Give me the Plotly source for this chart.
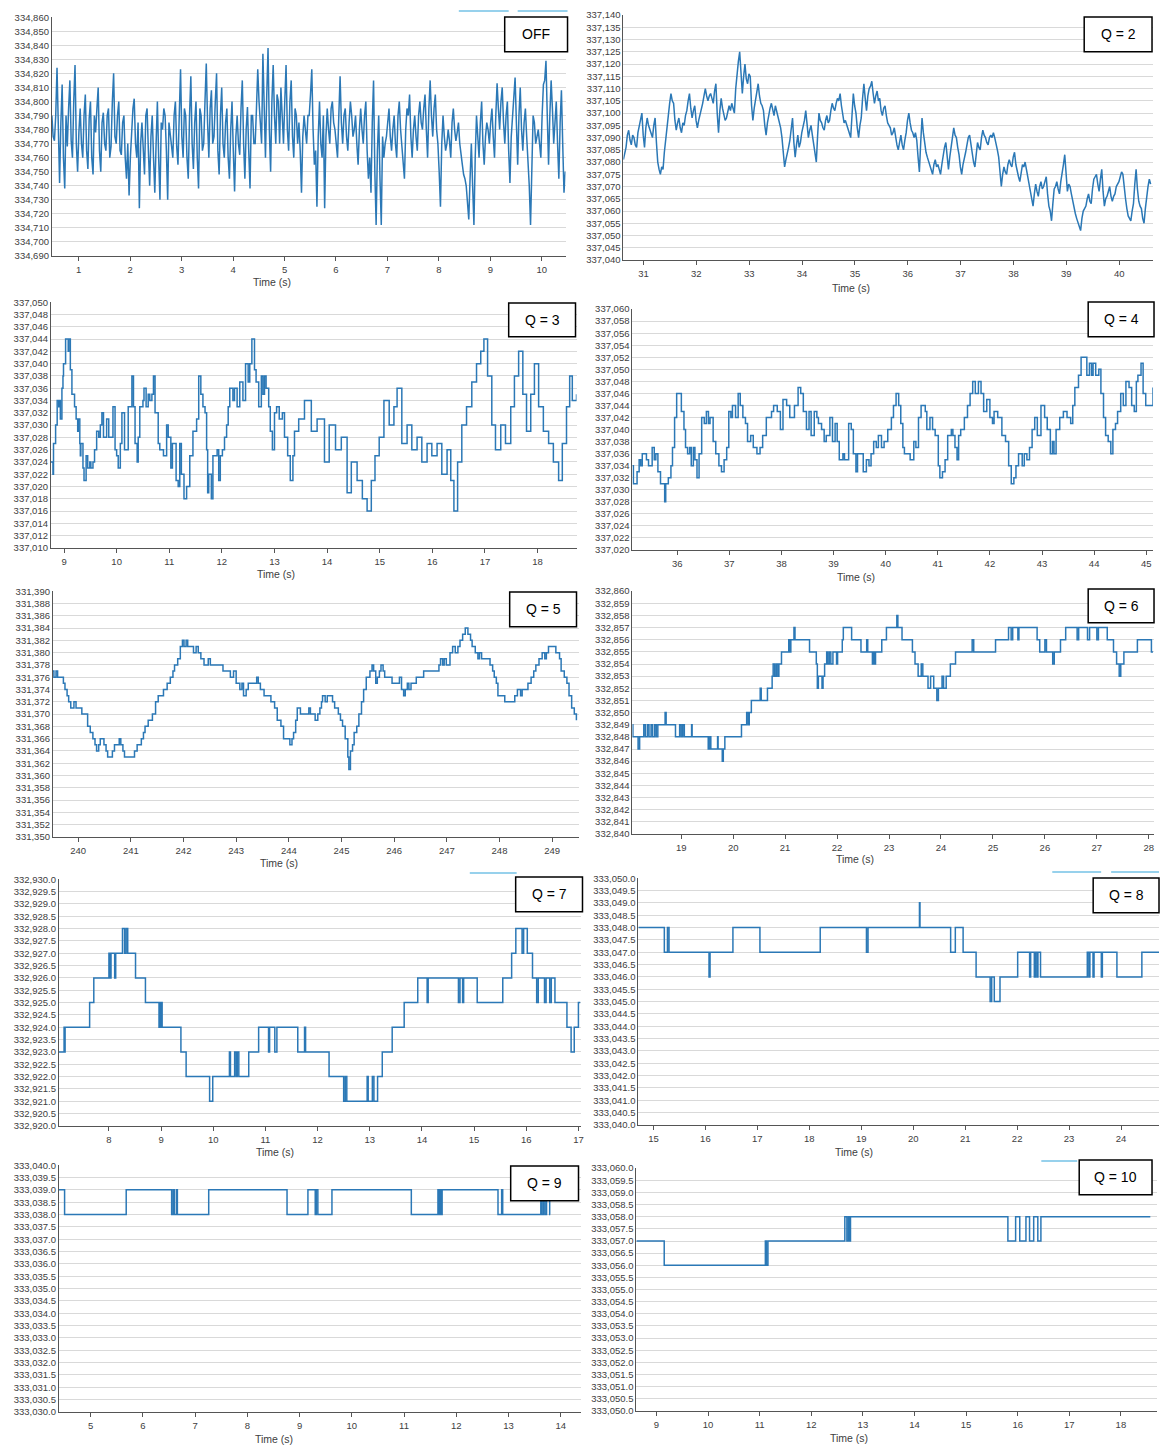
import plotly.graph_objects as go

W, H = 1164, 1449
BLUE = "#2b78b6"

# ---------------- data ----------------
# OFF: sampled trace (start time, sample step); main samples + in-between samples
off_t0, off_dt = 0.48, 0.05
off_v = [
    334790, 334772, 334824, 334742, 334812, 334738, 334768, 334815, 334760, 334826,
    334750, 334795, 334760, 334805, 334752, 334800, 334748, 334778, 334810, 334750,
    334792, 334765, 334795, 334768, 334820, 334770, 334800, 334762, 334790, 334745,
    334733, 334780, 334802, 334760, 334724, 334785, 334748, 334795, 334740, 334790,
    334735, 334800, 334730, 334780, 334790, 334730, 334778, 334760, 334800, 334755,
    334823, 334760, 334790, 334745, 334818, 334752, 334800, 334738, 334790, 334770,
    334827, 334760, 334808, 334775, 334820, 334748, 334810, 334760, 334795, 334745,
    334800, 334736, 334790, 334762, 334815, 334745, 334796, 334738, 334790, 334770,
    334823, 334785, 334834, 334760, 334838, 334750, 334826, 334770, 334800, 334810,
    334770, 334826, 334765, 334815, 334760, 334790, 334785, 334735, 334790, 334770,
    334790, 334823, 334755, 334725, 334800, 334760, 334724, 334795, 334770, 334800,
    334780, 334760, 334818, 334770, 334795, 334765, 334800, 334775, 334790, 334755,
    334795, 334770, 334800, 334745, 334735, 334815, 334712, 334790, 334712, 334760,
    334775, 334795, 334765, 334790, 334760, 334800, 334770, 334745, 334795, 334805,
    334760, 334790, 334765, 334800, 334780, 334805, 334760, 334815, 334775, 334805,
    334770, 334725, 334790, 334765, 334780, 334760, 334795, 334772, 334785, 334760,
    334748, 334740, 334716, 334770, 334712, 334790, 334760, 334800, 334755, 334785,
    334770, 334795, 334760, 334813, 334780, 334810, 334770, 334800, 334742, 334790,
    334817, 334755, 334810, 334765, 334795, 334760, 334712, 334790, 334770, 334780,
    334760, 334812, 334829, 334755, 334815, 334770, 334800, 334745, 334808, 334735,
]
off_mid = [
    334775, 334790, 334768, 334785, 334760, 334790, 334795, 334772, 334800, 334770,
    334778, 334770, 334790, 334765, 334788, 334760, 334790, 334795, 334765, 334785,
    334770, 334790, 334760, 334800, 334775, 334790, 334765, 334785, 334760, 334770,
    334760, 334795, 334770, 334785, 334770, 334760, 334790, 334765, 334775, 334760,
    334770, 334760, 334785, 334795, 334765, 334785, 334770, 334790, 334768, 334790,
    334775, 334795, 334760, 334790, 334770, 334785, 334760, 334795, 334765, 334800,
    334785, 334795, 334770, 334800, 334765, 334790, 334770, 334785, 334760, 334780,
    334765, 334775, 334770, 334795, 334770, 334780, 334765, 334790, 334770, 334795,
    334800, 334770, 334795, 334805, 334780, 334800, 334790, 334805, 334770, 334790,
    334800, 334780, 334800, 334775, 334795, 334770, 334765, 334775, 334780, 334790,
    334805, 334780, 334765, 334775, 334770, 334790, 334775, 334780, 334795, 334785,
    334770, 334790, 334785, 334790, 334775, 334785, 334790, 334780, 334770, 334780,
    334780, 334790, 334765, 334760, 334785, 334750, 334765, 334745, 334775, 334770,
    334785, 334775, 334780, 334770, 334790, 334780, 334760, 334780, 334790, 334775,
    334780, 334775, 334790, 334785, 334795, 334780, 334795, 334790, 334795, 334780,
    334750, 334770, 334775, 334770, 334772, 334785, 334780, 334778, 334770, 334755,
    334745, 334730, 334745, 334740, 334760, 334775, 334785, 334770, 334775, 334780,
    334785, 334775, 334790, 334795, 334800, 334785, 334790, 334765, 334775, 334805,
    334785, 334790, 334780, 334785, 334775, 334740, 334760, 334785, 334775, 334770,
    334790, 334815, 334790, 334790, 334795, 334785, 334770, 334785, 334770, 334750,
]

# Q = 2: sampled trace; main samples + in-between samples
q2_t0, q2_dt = 30.62, 0.05
q2_v = [
    337081, 337086, 337093, 337087, 337090, 337086, 337095, 337100, 337086, 337098,
    337093, 337090, 337098, 337080, 337075, 337077, 337090, 337099, 337108, 337104,
    337093, 337098, 337092, 337095, 337101, 337108, 337098, 337103, 337094, 337099,
    337104, 337110, 337105, 337108, 337104, 337112, 337092, 337106, 337100, 337098,
    337103, 337104, 337100, 337117, 337125, 337108, 337120, 337112, 337115, 337097,
    337105, 337112, 337104, 337101, 337091, 337100, 337104, 337099, 337101, 337097,
    337090, 337078, 337083, 337089, 337098, 337082, 337091, 337088, 337094, 337101,
    337090, 337095, 337087, 337080, 337100, 337096, 337093, 337099, 337097, 337104,
    337101, 337106, 337108, 337099, 337097, 337094, 337090, 337108, 337100, 337090,
    337098, 337112, 337101, 337110, 337113, 337104, 337109, 337106, 337099, 337103,
    337096, 337094, 337092, 337090, 337085, 337091, 337085, 337092, 337100, 337093,
    337090, 337089, 337076, 337098, 337087, 337082, 337078, 337075, 337081, 337079,
    337075, 337083, 337088, 337077, 337086, 337094, 337090, 337083, 337075, 337081,
    337087, 337091, 337084, 337078, 337088, 337085, 337093, 337090, 337087, 337091,
    337092, 337088, 337082, 337070, 337078, 337075, 337081, 337078, 337084, 337076,
    337072, 337079, 337080, 337074, 337068, 337062, 337071, 337066, 337072, 337070,
    337074, 337062, 337056, 337069, 337072, 337067, 337075, 337083, 337068, 337070,
    337064, 337059, 337055, 337052, 337060, 337062, 337067, 337063, 337073, 337075,
    337068, 337077, 337062, 337066, 337070, 337064, 337067, 337071, 337074, 337075,
    337065, 337058, 337056, 337063, 337077, 337064, 337061, 337055, 337066, 337073,
]
q2_mid = [
    337084, 337091, 337089, 337091, 337087, 337092, 337098, 337091, 337094, 337095,
    337091, 337095, 337088, 337077, 337078, 337084, 337095, 337104, 337105, 337097,
    337096, 337094, 337096, 337099, 337105, 337102, 337101, 337097, 337097, 337102,
    337107, 337107, 337107, 337106, 337109, 337100, 337101, 337102, 337097, 337101,
    337101, 337102, 337110, 337121, 337114, 337115, 337114, 337116, 337103, 337102,
    337109, 337107, 337103, 337095, 337096, 337102, 337101, 337103, 337099, 337094,
    337084, 337081, 337086, 337094, 337088, 337087, 337086, 337092, 337097, 337094,
    337093, 337091, 337084, 337091, 337097, 337094, 337097, 337096, 337101, 337102,
    337104, 337105, 337103, 337096, 337095, 337092, 337099, 337103, 337094, 337095,
    337106, 337106, 337107, 337111, 337108, 337107, 337105, 337101, 337102, 337099,
    337095, 337091, 337094, 337087, 337089, 337087, 337089, 337097, 337096, 337092,
    337092, 337082, 337088, 337092, 337084, 337080, 337077, 337079, 337078, 337077,
    337079, 337086, 337082, 337082, 337091, 337091, 337086, 337078, 337079, 337084,
    337090, 337087, 337080, 337084, 337086, 337090, 337091, 337088, 337090, 337090,
    337090, 337085, 337075, 337075, 337076, 337079, 337079, 337082, 337079, 337074,
    337076, 337078, 337077, 337070, 337065, 337067, 337068, 337070, 337069, 337072,
    337067, 337060, 337063, 337070, 337069, 337072, 337079, 337073, 337071, 337067,
    337061, 337057, 337054, 337057, 337061, 337065, 337064, 337069, 337074, 337071,
    337073, 337068, 337065, 337068, 337066, 337066, 337070, 337072, 337076, 337069,
    337061, 337057, 337060, 337071, 337069, 337062, 337057, 337061, 337070, 337071,
]

# Q = 3
q3_t = [8.75, 8.79, 8.80, 8.84, 8.87, 8.90, 8.92, 8.93, 8.96, 8.98, 8.99, 9.03, 9.08, 9.09, 9.12, 9.15,
        9.20, 9.23, 9.26, 9.27, 9.30, 9.31, 9.32, 9.36, 9.38, 9.42, 9.45, 9.49, 9.51, 9.55, 9.58, 9.62,
        9.66, 9.69, 9.72, 9.75, 9.81, 9.85, 9.93, 9.97, 10.00, 10.03, 10.07, 10.10, 10.15, 10.22, 10.29,
        10.32, 10.35, 10.39, 10.41, 10.44, 10.50, 10.52, 10.56, 10.60, 10.63, 10.67, 10.70, 10.73, 10.79,
        10.82, 10.89, 10.95, 10.98, 11.03, 11.06, 11.13, 11.17, 11.20, 11.23, 11.28, 11.33, 11.39, 11.45,
        11.52, 11.56, 11.60, 11.64, 11.68, 11.71, 11.73, 11.75, 11.80, 11.83, 11.91, 11.94, 11.97, 12.01,
        12.05, 12.09, 12.12, 12.15, 12.21, 12.24, 12.29, 12.34, 12.40, 12.45, 12.50, 12.53, 12.57, 12.62,
        12.65, 12.70, 12.75, 12.78, 12.81, 12.84, 12.89, 12.92, 12.96, 13.00, 13.04, 13.09, 13.15, 13.19,
        13.25, 13.30, 13.35, 13.38, 13.41, 13.46, 13.57, 13.70, 13.81, 13.95, 14.04, 14.16, 14.27, 14.38,
        14.46, 14.57, 14.67, 14.76, 14.84, 14.91, 14.99, 15.08, 15.18, 15.27, 15.33, 15.42, 15.52, 15.61,
        15.71, 15.80, 15.90, 15.99, 16.09, 16.18, 16.28, 16.35, 16.41, 16.48, 16.56, 16.65, 16.75, 16.84,
        16.92, 16.98, 17.05, 17.13, 17.20, 17.30, 17.39, 17.49, 17.56, 17.64, 17.72, 17.79, 17.87, 17.94,
        18.02, 18.11, 18.21, 18.30, 18.40, 18.47, 18.55, 18.61, 18.66, 18.74]
q3_v = [337024, 337022, 337027, 337030, 337034, 337033, 337034, 337031, 337036, 337038, 337040, 337044,
        337042, 337044, 337039, 337035, 337033, 337031, 337029, 337031, 337027, 337025, 337027, 337023,
        337021, 337025, 337023, 337024, 337023, 337024, 337026, 337029, 337028, 337030, 337032, 337028,
        337031, 337028, 337033, 337026, 337025, 337023, 337027, 337032, 337026, 337033, 337038, 337033,
        337027, 337024, 337028, 337033, 337034, 337036, 337033, 337035, 337034, 337035, 337038, 337032,
        337027, 337026, 337025, 337030, 337028, 337023, 337027, 337021, 337020, 337027, 337022, 337018,
        337020, 337025, 337029, 337031, 337038, 337035, 337033, 337032, 337026, 337019, 337022, 337018,
        337025, 337026, 337021, 337025, 337026, 337028, 337030, 337033, 337036, 337034, 337036, 337033,
        337037, 337034, 337040, 337037, 337040, 337044, 337039, 337037, 337033, 337038, 337035, 337038,
        337036, 337033, 337029, 337026, 337032, 337033, 337031, 337032, 337028, 337025, 337021, 337025,
        337029, 337029, 337031, 337034, 337029, 337031, 337024, 337030, 337026, 337028, 337019, 337024,
        337021, 337018, 337016, 337021, 337025, 337028, 337034, 337030, 337033, 337036, 337027, 337030,
        337026, 337028, 337024, 337027, 337025, 337027, 337022, 337026, 337021, 337016, 337024, 337030,
        337033, 337037, 337040, 337042, 337044, 337038, 337030, 337026, 337030, 337027, 337033, 337038,
        337042, 337035, 337029, 337035, 337040, 337033, 337029, 337027, 337024, 337021, 337027, 337033,
        337038, 337034, 337035]

# Q = 4
q4_t = [35.14, 35.16, 35.21, 35.23, 35.27, 35.30, 35.33, 35.38, 35.41, 35.45, 35.52, 35.56, 35.59, 35.63,
        35.68, 35.73, 35.76, 35.78, 35.83, 35.88, 35.91, 35.95, 35.99, 36.04, 36.08, 36.13, 36.16, 36.20,
        36.24, 36.27, 36.31, 36.34, 36.38, 36.42, 36.47, 36.52, 36.56, 36.60, 36.63, 36.69, 36.74, 36.80,
        36.85, 36.90, 36.95, 36.99, 37.03, 37.06, 37.12, 37.17, 37.21, 37.26, 37.31, 37.35, 37.41, 37.46,
        37.53, 37.59, 37.64, 37.71, 37.78, 37.81, 37.85, 37.92, 37.98, 38.03, 38.10, 38.16, 38.21, 38.25,
        38.32, 38.37, 38.42, 38.48, 38.53, 38.57, 38.63, 38.68, 38.71, 38.77, 38.82, 38.86, 38.93, 38.98,
        39.03, 39.07, 39.11, 39.18, 39.21, 39.29, 39.34, 39.38, 39.43, 39.46, 39.54, 39.57, 39.63, 39.68,
        39.72, 39.77, 39.82, 39.86, 39.92, 39.97, 40.04, 40.11, 40.15, 40.20, 40.25, 40.29, 40.33, 40.36,
        40.43, 40.47, 40.54, 40.58, 40.63, 40.68, 40.76, 40.79, 40.85, 40.90, 40.95, 41.01, 41.04, 41.09,
        41.14, 41.19, 41.26, 41.29, 41.33, 41.37, 41.40, 41.44, 41.51, 41.57, 41.62, 41.67, 41.72, 41.78,
        41.83, 41.88, 41.94, 42.00, 42.05, 42.08, 42.15, 42.23, 42.30, 42.36, 42.41, 42.46, 42.50, 42.55,
        42.62, 42.66, 42.71, 42.76, 42.81, 42.86, 42.91, 42.98, 43.05, 43.10, 43.16, 43.20, 43.23, 43.27,
        43.34, 43.41, 43.48, 43.55, 43.59, 43.63, 43.70, 43.75, 43.80, 43.86, 43.91, 43.95, 43.98, 44.03,
        44.09, 44.13, 44.18, 44.22, 44.27, 44.32, 44.36, 44.41, 44.45, 44.51, 44.56, 44.61, 44.67, 44.72,
        44.77, 44.81, 44.84, 44.90, 44.94, 44.99, 45.06, 45.13]
q4_v = [337034, 337031, 337031, 337033, 337035, 337034, 337036, 337036, 337035, 337034, 337037, 337035,
        337036, 337033, 337031, 337031, 337028, 337031, 337032, 337034, 337037, 337042, 337046, 337046,
        337043, 337040, 337037, 337036, 337037, 337034, 337037, 337035, 337032, 337036, 337042, 337041,
        337043, 337041, 337042, 337038, 337036, 337034, 337033, 337035, 337037, 337043, 337042, 337044,
        337042, 337046, 337044, 337042, 337041, 337038, 337039, 337037, 337036, 337037, 337039, 337042,
        337042, 337043, 337044, 337043, 337040, 337045, 337044, 337042, 337042, 337044, 337047, 337046,
        337043, 337040, 337043, 337039, 337043, 337042, 337041, 337040, 337038, 337039, 337042, 337038,
        337041, 337038, 337035, 337036, 337035, 337041, 337040, 337036, 337033, 337036, 337036, 337033,
        337035, 337034, 337036, 337038, 337037, 337039, 337037, 337038, 337040, 337042, 337044, 337046,
        337044, 337041, 337037, 337036, 337036, 337035, 337038, 337037, 337042, 337044, 337043, 337040,
        337042, 337040, 337039, 337034, 337032, 337033, 337035, 337039, 337040, 337039, 337037, 337035,
        337039, 337040, 337042, 337044, 337046, 337048, 337046, 337048, 337046, 337043, 337045, 337042,
        337041, 337043, 337042, 337039, 337038, 337034, 337031, 337032, 337034, 337036, 337034, 337036,
        337035, 337037, 337040, 337042, 337039, 337044, 337042, 337040, 337036, 337038, 337036, 337040,
        337042, 337043, 337042, 337041, 337044, 337047, 337049, 337052, 337052, 337049, 337051, 337049,
        337051, 337049, 337050, 337046, 337042, 337039, 337038, 337036, 337040, 337041, 337043, 337046,
        337044, 337048, 337047, 337044, 337043, 337048, 337049, 337051, 337046, 337044, 337044, 337047]

# Q = 5
q5_t = [239.52, 239.54, 239.58, 239.61, 239.68, 239.72, 239.75, 239.79, 239.82, 239.86, 239.92, 239.96,
        240.04, 240.07, 240.13, 240.18, 240.23, 240.28, 240.32, 240.35, 240.39, 240.42, 240.49, 240.53,
        240.56, 240.62, 240.65, 240.69, 240.78, 240.81, 240.85, 240.88, 241.04, 241.07, 241.12, 241.20,
        241.24, 241.27, 241.33, 241.41, 241.47, 241.52, 241.62, 241.69, 241.75, 241.80, 241.83, 241.89,
        241.94, 241.98, 242.01, 242.05, 242.08, 242.19, 242.24, 242.28, 242.33, 242.39, 242.47, 242.51,
        242.72, 242.75, 242.89, 242.95, 243.00, 243.07, 243.11, 243.14, 243.19, 243.23, 243.39, 243.42,
        243.46, 243.53, 243.66, 243.73, 243.78, 243.85, 243.90, 244.02, 244.06, 244.09, 244.13, 244.16,
        244.22, 244.38, 244.41, 244.50, 244.55, 244.59, 244.62, 244.64, 244.69, 244.73, 244.83, 244.87,
        244.94, 244.98, 245.02, 245.07, 245.12, 245.14, 245.17, 245.21, 245.24, 245.29, 245.33, 245.38,
        245.42, 245.47, 245.54, 245.58, 245.61, 245.65, 245.68, 245.72, 245.75, 245.79, 245.82, 245.96,
        246.10, 246.14, 246.18, 246.21, 246.25, 246.28, 246.32, 246.42, 246.56, 246.85, 246.88, 246.92,
        246.95, 246.99, 247.06, 247.11, 247.16, 247.21, 247.25, 247.30, 247.35, 247.40, 247.45, 247.48,
        247.54, 247.59, 247.62, 247.66, 247.76, 247.82, 247.87, 247.90, 247.94, 247.97, 248.10, 248.29,
        248.34, 248.40, 248.43, 248.54, 248.60, 248.65, 248.69, 248.75, 248.81, 248.86, 248.89, 248.93,
        249.07, 249.14, 249.17, 249.23, 249.28, 249.32, 249.37, 249.42, 249.46]
q5_v = [331377, 331376, 331377, 331376, 331376, 331375, 331374, 331373, 331372, 331371, 331372, 331371,
        331371, 331370, 331370, 331368, 331367, 331366, 331365, 331364, 331365, 331366, 331365, 331364,
        331363, 331363, 331364, 331365, 331366, 331365, 331364, 331363, 331363, 331364, 331365, 331366,
        331367, 331368, 331369, 331370, 331372, 331373, 331374, 331375, 331376, 331377, 331378, 331379,
        331381, 331382, 331381, 331382, 331381, 331380, 331381, 331380, 331379, 331378, 331379, 331378,
        331378, 331377, 331376, 331377, 331375, 331374, 331375, 331373, 331374, 331375, 331376, 331375,
        331374, 331373, 331372, 331371, 331369, 331368, 331366, 331365, 331366, 331367, 331369, 331371,
        331370, 331371, 331370, 331369, 331370, 331371, 331372, 331373, 331372, 331373, 331372, 331371,
        331370, 331369, 331368, 331366, 331363, 331361, 331364, 331365, 331367, 331368, 331370, 331372,
        331374, 331376, 331377, 331378, 331377, 331375, 331376, 331377, 331378, 331377, 331376, 331375,
        331376, 331374, 331373, 331374, 331375, 331374, 331375, 331376, 331377, 331378, 331379, 331378,
        331379, 331378, 331380, 331381, 331380, 331381, 331382, 331383, 331384, 331383, 331382, 331381,
        331380, 331379, 331380, 331379, 331379, 331378, 331377, 331376, 331375, 331373, 331372, 331373,
        331374, 331373, 331374, 331375, 331376, 331377, 331378, 331379, 331380, 331379, 331380, 331381,
        331380, 331379, 331377, 331376, 331375, 331373, 331371, 331370, 331369]

# Q = 6
q6_t = [18.06, 18.07, 18.17, 18.20, 18.28, 18.31, 18.35, 18.38, 18.42, 18.45, 18.49, 18.52, 18.55,
        18.69, 18.71, 18.89, 18.97, 19.00, 19.03, 19.06, 19.20, 19.21, 19.52, 19.55, 19.57, 19.70,
        19.71, 19.79, 19.81, 19.84, 20.16, 20.26, 20.29, 20.31, 20.35, 20.52, 20.54, 20.66, 20.75, 20.77,
        20.80, 20.83, 20.86, 20.88, 20.93, 21.07, 21.09, 21.11, 21.17, 21.19, 21.47, 21.60, 21.62, 21.64,
        21.71, 21.73, 21.76, 21.80, 21.82, 21.85, 21.88, 21.92, 21.99, 22.01, 22.10, 22.12, 22.28, 22.46,
        22.57, 22.59, 22.68, 22.70, 22.72, 22.74, 22.78, 22.86, 22.95, 23.15, 23.17, 23.25, 23.45, 23.50,
        23.56, 23.62, 23.65, 23.75, 23.80, 23.86, 23.92, 23.95, 24.02, 24.05, 24.10, 24.18, 24.28, 24.60,
        24.63, 25.05, 25.30, 25.35, 25.38, 25.48, 25.50, 25.85, 25.90, 26.00, 26.03, 26.15, 26.18, 26.30,
        26.40, 26.62, 26.65, 26.82, 26.86, 27.00, 27.03, 27.20, 27.32, 27.38, 27.43, 27.46, 27.52, 27.78,
        28.05, 28.08]
q6_v = [332849, 332848, 332847, 332848, 332849, 332848, 332849, 332848, 332849, 332848, 332849, 332848,
        332849, 332850, 332849, 332848, 332849, 332848, 332849, 332848, 332849, 332848,
        332847, 332848, 332847, 332848, 332847, 332846, 332847, 332848, 332849, 332850, 332849, 332850,
        332851, 332852, 332851, 332852, 332853, 332854, 332853, 332854, 332853, 332854, 332855, 332856,
        332855, 332856, 332857, 332856, 332855, 332854, 332852, 332853, 332852, 332853, 332854, 332855,
        332854, 332855, 332854, 332855, 332854, 332855, 332856, 332857, 332856, 332855, 332856, 332855,
        332854, 332855, 332854, 332855, 332855, 332856, 332857, 332858, 332857, 332856, 332855, 332854,
        332853, 332854, 332853, 332852, 332853, 332852, 332851, 332852, 332853, 332852, 332853, 332854,
        332855, 332856, 332855, 332856, 332857, 332856, 332857, 332856, 332857, 332856, 332855, 332856,
        332855, 332854, 332855, 332856, 332857, 332856, 332857, 332856, 332857, 332856, 332857, 332856,
        332855, 332854, 332853, 332854, 332855, 332856, 332855, 332855]

# Q = 7
q7_t = [7.04, 7.14, 7.15, 7.16, 7.63, 7.71, 8.00, 8.02, 8.04, 8.11, 8.13, 8.26, 8.30, 8.33, 8.36, 8.51,
        8.70, 8.96, 8.97, 8.99, 9.00, 9.02, 9.38, 9.48, 9.93, 9.99, 10.31, 10.33, 10.41, 10.44, 10.46,
        10.49, 10.68, 10.87, 11.06, 11.08, 11.18, 11.22, 11.62, 11.75, 11.77, 12.22, 12.50, 12.53, 12.56,
        12.95, 12.97, 13.05, 13.08, 13.15, 13.24, 13.43, 13.66, 13.92, 14.10, 14.12, 14.70, 14.73, 14.78,
        14.80, 15.06, 15.55, 15.72, 15.80, 15.92, 15.95, 16.02, 16.12, 16.20, 16.23, 16.35, 16.38, 16.45,
        16.48, 16.55, 16.78, 16.86, 16.92, 17.00, 17.04]
q7_v = [332923.0, 332924.0, 332923.0, 332924.0, 332925.0, 332926.0, 332927.0, 332926.0, 332927.0,
        332926.0, 332927.0, 332928.0, 332927.0, 332928.0, 332927.0, 332926.0, 332925.0, 332924.0,
        332925.0, 332924.0, 332925.0, 332924.0, 332923.0, 332922.0, 332921.0, 332922.0, 332923.0,
        332922.0, 332923.0, 332922.0, 332923.0, 332922.0, 332923.0, 332924.0, 332923.0, 332924.0,
        332923.0, 332924.0, 332923.0, 332924.0, 332923.0, 332922.0, 332921.0, 332922.0, 332921.0,
        332922.0, 332921.0, 332922.0, 332921.0, 332922.0, 332923.0, 332924.0, 332925.0, 332926.0,
        332925.0, 332926.0, 332925.0, 332926.0, 332925.0, 332926.0, 332925.0, 332926.0, 332927.0,
        332928.0, 332927.0, 332928.0, 332927.0, 332926.0, 332925.0, 332926.0, 332925.0, 332926.0,
        332925.0, 332926.0, 332925.0, 332924.0, 332923.0, 332924.0, 332925.0, 332925.0]

# Q = 8
q8_t = [14.71, 15.21, 15.27, 15.30, 16.07, 16.09, 16.53, 17.05, 18.21, 19.10, 19.13, 20.12, 20.13, 20.72,
        20.81, 20.96, 21.21, 21.48, 21.51, 21.56, 21.67, 22.01, 22.24, 22.26, 22.33, 22.35, 22.38, 22.40,
        22.45, 23.35, 23.38, 23.40, 23.46, 23.48, 23.62, 23.64, 23.92, 24.40, 24.73]
q8_v = [333048.0, 333047.0, 333048.0, 333047.0, 333046.0, 333047.0, 333048.0, 333047.0, 333048.0,
        333047.0, 333048.0, 333049.0, 333048.0, 333047.0, 333048.0, 333047.0, 333046.0, 333045.0,
        333046.0, 333045.0, 333046.0, 333047.0, 333046.0, 333047.0, 333046.0, 333047.0, 333046.0,
        333047.0, 333046.0, 333047.0, 333046.0, 333047.0, 333046.0, 333047.0, 333046.0, 333047.0,
        333046.0, 333047.0, 333047.0]

# Q = 9
q9_t = [4.39, 4.50, 5.68, 6.55, 6.58, 6.60, 6.64, 6.66, 7.26, 8.76, 9.16, 9.30, 9.32, 9.35, 9.62, 11.14,
        11.65, 11.67, 11.69, 11.71, 11.73, 12.80, 12.87, 12.89, 13.62, 13.64, 13.67, 13.70, 13.73, 13.79,
        13.80]
q9_v = [333039.0, 333038.0, 333039.0, 333038.0, 333039.0, 333038.0, 333039.0, 333038.0, 333039.0,
        333038.0, 333039.0, 333038.0, 333039.0, 333038.0, 333039.0, 333038.0, 333039.0, 333038.0,
        333039.0, 333038.0, 333039.0, 333038.0, 333039.0, 333038.0, 333039.0, 333038.0, 333039.0,
        333038.0, 333039.0, 333038.0, 333038.0]

# Q = 10
q10_t = [8.61, 9.15, 11.11, 11.13, 11.16, 12.65, 12.69, 12.72, 12.74, 12.76, 15.81, 15.96, 16.04, 16.16,
         16.23, 16.31, 16.39, 16.45, 18.57]
q10_v = [333057.0, 333056.0, 333057.0, 333056.0, 333057.0, 333058.0, 333057.0, 333058.0, 333057.0,
         333058.0, 333057.0, 333058.0, 333057.0, 333058.0, 333057.0, 333058.0, 333057.0, 333058.0,
         333058.0]

labels = ["OFF", "Q = 2", "Q = 3", "Q = 4", "Q = 5", "Q = 6", "Q = 7", "Q = 8", "Q = 9", "Q = 10"]


def interleave(t0, dt, main, mid):
    ts, vs = [], []
    for i, v in enumerate(main):
        ts.append(t0 + i * dt)
        vs.append(v)
        if i < len(mid):
            ts.append(t0 + (i + 0.5) * dt)
            vs.append(mid[i])
    return ts, vs


off_t, off_all = interleave(off_t0, off_dt, off_v, off_mid)
q2_t, q2_all = interleave(q2_t0, q2_dt, q2_v, q2_mid)

series = [
    (off_t, off_all, "linear"), (q2_t, q2_all, "linear"), (q3_t, q3_v, "hv"), (q4_t, q4_v, "hv"),
    (q5_t, q5_v, "hv"), (q6_t, q6_v, "hv"), (q7_t, q7_v, "hv"), (q8_t, q8_v, "hv"),
    (q9_t, q9_v, "hv"), (q10_t, q10_v, "hv"),
]

# ---------------- layout (pixel boxes) ----------------
# (left, right, top, bottom), x range, y range, y step, y format, label box (x0,x1,y0,y1), title centre (x,y)
panels = [
    ((52, 567, 12, 253), (0.48, 10.46), (334690, 334860), 10, ",d", (506, 569, 12, 47), (273, 279)),
    ((625, 1156, 10, 257), (30.62, 40.64), (337040, 337140), 5, ",d", (1087, 1155, 12, 47), (853, 285)),
    ((51, 578, 299, 547), (8.75, 18.74), (337010, 337050), 2, ",d", (510, 577, 300, 334), (277, 573)),
    ((634, 1156, 306, 549), (35.14, 45.13), (337020, 337060), 2, ",d", (1091, 1157, 299, 334), (858, 576)),
    ((53, 580, 590, 838), (239.52, 249.5), (331350, 331390), 2, ",d", (511, 578, 591, 626), (280, 864)),
    ((634, 1157, 590, 835), (18.06, 28.1), (332840, 332860), 1, ",d", (1091, 1157, 588, 622), (857, 860)),
    ((59, 582, 880, 1129), (7.04, 17.04), (332920, 332930), 0.5, ",.1f", (517, 584, 878, 913), (276, 1155)),
    ((640, 1162, 879, 1128), (14.71, 24.73), (333040, 333050), 0.5, ",.1f", (1096, 1162, 879, 914), (856, 1155)),
    ((59, 582, 1168, 1417), (4.39, 14.38), (333030, 333040), 0.5, ",.1f", (512, 580, 1169, 1204), (275, 1444)),
    ((638, 1160, 1171, 1416), (8.61, 18.7), (333050, 333060), 0.5, ",.1f", (1082, 1155, 1163, 1198), (851, 1443)),
]


def px(x):
    return x / W


def py(y):
    return 1 - y / H


FONT = "Liberation Sans, Arial, sans-serif"
TICKFONT = dict(family=FONT, size=9.5, color="#404040")

fig = go.Figure()
layout = dict(
    width=W, height=H, margin=dict(l=0, r=0, t=0, b=0, pad=0),
    paper_bgcolor="white", plot_bgcolor="white", showlegend=False,
    annotations=[], shapes=[],
)

for i, ((l, r, t, b), xr, yr, ystep, yfmt, box, tpos) in enumerate(panels):
    n = i + 1
    xs, ys, shape = series[i]
    sfx = "" if n == 1 else str(n)
    fig.add_trace(go.Scatter(
        x=xs, y=ys, mode="lines",
        line=dict(color=BLUE, width=1.5, shape=shape),
        xaxis="x" + sfx, yaxis="y" + sfx, hoverinfo="skip",
    ))
    eps = ystep * 0.02
    layout["xaxis" + sfx] = dict(
        domain=[px(l), px(r)], range=list(xr), anchor="y" + sfx,
        showgrid=False, zeroline=False, showline=True, linecolor="#555555", linewidth=1,
        ticks="outside", ticklen=4, tickcolor="#555555", tickwidth=1,
        dtick=1, tick0=0, tickfont=TICKFONT,
    )
    layout["yaxis" + sfx] = dict(
        domain=[py(b), py(t)], range=[yr[0] - eps, yr[1] + eps], anchor="x" + sfx,
        showgrid=True, gridcolor="#d9d9d9", gridwidth=1, zeroline=False,
        showline=True, linecolor="#555555", linewidth=1, ticks="",
        tick0=yr[0], dtick=ystep, tickformat=yfmt, tickfont=TICKFONT,
    )
    layout["annotations"].append(dict(
        x=px(tpos[0]), y=py(tpos[1]), xref="paper", yref="paper", text="Time (s)",
        showarrow=False, xanchor="center", yanchor="middle",
        font=dict(family=FONT, size=10.5, color="#404040"),
    ))
    bx0, bx1, by0, by1 = box
    layout["shapes"].append(dict(
        type="rect", xref="paper", yref="paper", x0=px(bx0), x1=px(bx1), y0=py(by1), y1=py(by0),
        line=dict(color="black", width=1.5), fillcolor="white", layer="above",
    ))
    layout["annotations"].append(dict(
        x=px((bx0 + bx1) / 2), y=py((by0 + by1) / 2), xref="paper", yref="paper", text=labels[i],
        showarrow=False, xanchor="center", yanchor="middle",
        font=dict(family=FONT, size=14, color="black"),
    ))

# cropped legend fragments seen in the picture
for (x0, x1, y) in [(460, 510, 6), (519, 569, 6), (471, 518, 874), (1055, 1104, 873),
                    (1114, 1162, 873), (1044, 1080, 1164)]:
    layout["shapes"].append(dict(
        type="line", xref="paper", yref="paper", x0=px(x0), x1=px(x1), y0=py(y), y1=py(y),
        line=dict(color="#74c2e6", width=1.5),
    ))

fig.update_layout(**layout)
fig.write_html(
    "out.html",
    config={"displayModeBar": False},
    post_script="document.body.style.margin='0';document.body.style.overflow='hidden';",
)
